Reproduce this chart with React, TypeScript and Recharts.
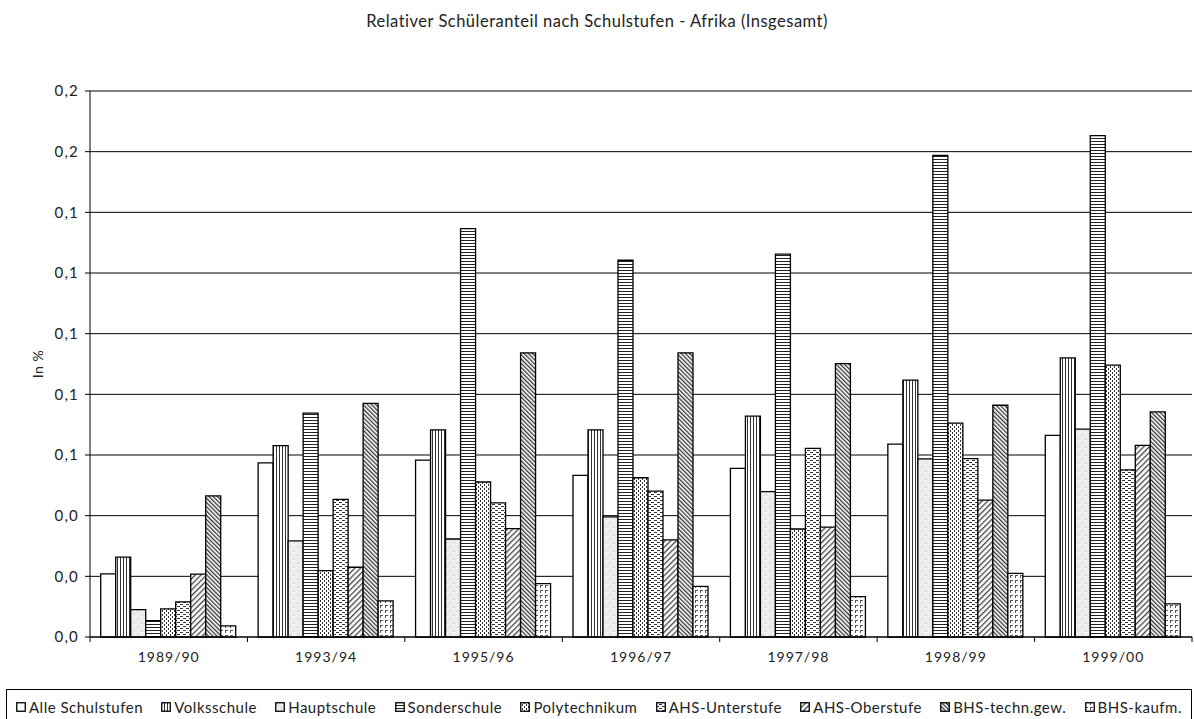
import React from 'react'
import { Bar, BarChart, CartesianGrid, XAxis, YAxis } from 'recharts'

const years = ['1989/90', '1993/94', '1995/96', '1996/97', '1997/98', '1998/99', '1999/00']

const alleSchulstufen = [0.0208, 0.0574, 0.0583, 0.0533, 0.0556, 0.0636, 0.0665]
const volksschule = [0.0263, 0.0631, 0.0683, 0.0683, 0.0728, 0.0847, 0.092]
const hauptschule = [0.009, 0.0317, 0.0323, 0.0396, 0.0479, 0.0587, 0.0685]
const sonderschule = [0.0054, 0.0738, 0.1346, 0.1242, 0.1262, 0.1588, 0.1653]
const polytechnikum = [0.0093, 0.0219, 0.0511, 0.0525, 0.0356, 0.0705, 0.0896]
const ahsUnterstufe = [0.0116, 0.0454, 0.0442, 0.0481, 0.0622, 0.0588, 0.0551]
const ahsOberstufe = [0.0207, 0.023, 0.0357, 0.032, 0.0362, 0.0451, 0.0632]
const bhsTechnGew = [0.0465, 0.077, 0.0937, 0.0937, 0.0901, 0.0764, 0.0742]
const bhsKaufm = [0.0037, 0.0119, 0.0176, 0.0167, 0.0133, 0.021, 0.0109]

const yTicks = [0, 0.02, 0.04, 0.06, 0.08, 0.1, 0.12, 0.14, 0.16, 0.18]

const series = [
  { name: 'Alle Schulstufen', values: alleSchulstufen, pattern: 'p-alle' },
  { name: 'Volksschule', values: volksschule, pattern: 'p-volks' },
  { name: 'Hauptschule', values: hauptschule, pattern: 'p-haupt' },
  { name: 'Sonderschule', values: sonderschule, pattern: 'p-sonder' },
  { name: 'Polytechnikum', values: polytechnikum, pattern: 'p-poly' },
  { name: 'AHS-Unterstufe', values: ahsUnterstufe, pattern: 'p-ahsu' },
  { name: 'AHS-Oberstufe', values: ahsOberstufe, pattern: 'p-ahso' },
  { name: 'BHS-techn.gew.', values: bhsTechnGew, pattern: 'p-bhst' },
  { name: 'BHS-kaufm.', values: bhsKaufm, pattern: 'p-bhsk' }
]

const FONT = 'Lato, "DejaVu Sans", sans-serif'
const TEXT = '#222'
const WIDTH = 1194
const HEIGHT = 719
const MARGIN = { top: 91, right: 2, left: 30, bottom: 52 }
const Y_AXIS_W = 60
const X_AXIS_H = 30
const PLOT_LEFT = MARGIN.left + Y_AXIS_W
const PLOT_RIGHT = WIDTH - MARGIN.right
const PLOT_BOTTOM = HEIGHT - MARGIN.bottom - X_AXIS_H
const BAND = (PLOT_RIGHT - PLOT_LEFT) / years.length

const chartData = years.map((year, i) => {
  const row: Record<string, string | number> = { year }
  for (const s of series) row[s.name] = s.values[i]
  return row
})

function PatternDefs() {
  return (
    <svg width={0} height={0} style={{ position: 'absolute' }}>
      <defs>
        <pattern id="p-alle" width={4} height={4} patternUnits="userSpaceOnUse">
          <rect width={4} height={4} fill="#fff" />
        </pattern>
        <pattern id="p-volks" width={3} height={3} patternUnits="userSpaceOnUse">
          <rect width={3} height={3} fill="#fff" />
          <rect x={0} y={0} width={1} height={3} fill="#333" />
        </pattern>
        <pattern id="p-haupt" width={8} height={8} patternUnits="userSpaceOnUse">
          <rect width={8} height={8} fill="#eeeeee" />
          <rect x={1} y={2} width={3} height={2} fill="#e0e0e0" />
          <rect x={5} y={5} width={2} height={3} fill="#e3e3e3" />
          <rect x={6} y={0} width={2} height={1} fill="#f6f6f6" />
        </pattern>
        <pattern id="p-sonder" width={3} height={3} patternUnits="userSpaceOnUse">
          <rect width={3} height={3} fill="#fff" />
          <rect x={0} y={0} width={3} height={1} fill="#222" />
        </pattern>
        <pattern id="p-poly" width={4} height={4} patternUnits="userSpaceOnUse">
          <rect width={4} height={4} fill="#fff" />
          <rect x={0} y={0} width={1} height={2} fill="#333" />
          <rect x={2} y={2} width={1} height={2} fill="#333" />
        </pattern>
        <pattern id="p-ahsu" width={6} height={4} patternUnits="userSpaceOnUse">
          <rect width={6} height={4} fill="#fff" />
          <rect x={0} y={0} width={3} height={1} fill="#333" />
          <rect x={3} y={2} width={3} height={1} fill="#333" />
        </pattern>
        <pattern id="p-ahso" width={4} height={4} patternUnits="userSpaceOnUse" patternTransform="rotate(45)">
          <rect width={4} height={4} fill="#fff" />
          <rect x={0} y={0} width={1.3} height={4} fill="#444" />
        </pattern>
        <pattern id="p-bhst" width={3} height={3} patternUnits="userSpaceOnUse" patternTransform="rotate(-45)">
          <rect width={3} height={3} fill="#fff" />
          <rect x={0} y={0} width={1.3} height={3} fill="#333" />
        </pattern>
        <pattern id="p-bhsk" width={5} height={5} patternUnits="userSpaceOnUse">
          <rect width={5} height={5} fill="#fff" />
          <rect x={0} y={0} width={3} height={1} fill="#555" />
          <rect x={0} y={0} width={1} height={3} fill="#555" />
        </pattern>
      </defs>
    </svg>
  )
}

// category label in the middle of the band, tick marks on the band edges
function YearTick(props: { x?: number; y?: number; index?: number; payload?: { value: string } }) {
  const { x = 0, index = 0, payload } = props
  const left = x - BAND / 2
  return (
    <g>
      <line x1={left} x2={left} y1={PLOT_BOTTOM} y2={PLOT_BOTTOM + 5} stroke="#000" />
      {index === years.length - 1 && (
        <line x1={left + BAND} x2={left + BAND} y1={PLOT_BOTTOM} y2={PLOT_BOTTOM + 5} stroke="#000" />
      )}
      <text
        x={x}
        y={PLOT_BOTTOM + 25}
        textAnchor="middle"
        fontSize={14}
        letterSpacing={1}
        fill={TEXT}
        fontFamily={FONT}
      >
        {payload?.value}
      </text>
    </g>
  )
}

function LegendBox() {
  return (
    <div
      style={{
        position: 'absolute',
        left: 6,
        top: 689,
        width: PLOT_RIGHT - 6,
        height: 40,
        boxSizing: 'border-box',
        border: '1px solid #000',
        display: 'flex',
        justifyContent: 'space-between',
        alignItems: 'flex-start',
        padding: '8px 9px 0 9px',
        fontFamily: FONT,
        fontSize: 15,
        letterSpacing: 0.5,
        color: TEXT
      }}
    >
      {series.map((s) => (
        <div key={s.name} style={{ display: 'flex', alignItems: 'center', gap: 3 }}>
          <svg width={10} height={10}>
            <rect x={0.75} y={0.75} width={8.5} height={8.5} fill={`url(#${s.pattern})`} stroke="#000" strokeWidth={1.3} />
          </svg>
          <span>{s.name}</span>
        </div>
      ))}
    </div>
  )
}

export default function App() {
  return (
    <div style={{ position: 'absolute', left: 0, top: 0, width: WIDTH, height: HEIGHT, background: '#fff' }}>
      <PatternDefs />
      <div
        style={{
          position: 'absolute',
          top: 11,
          left: 0,
          width: WIDTH,
          textAlign: 'center',
          fontFamily: FONT,
          fontSize: 16.5,
          letterSpacing: 0.5,
          color: TEXT
        }}
      >
        Relativer Schüleranteil nach Schulstufen - Afrika (Insgesamt)
      </div>
      <BarChart
        width={WIDTH}
        height={HEIGHT}
        data={chartData}
        margin={MARGIN}
        barCategoryGap="6.8%"
        barGap={0}
      >
        <CartesianGrid horizontal vertical={false} stroke="#000" strokeWidth={1} />
        <XAxis
          dataKey="year"
          height={X_AXIS_H}
          interval={0}
          tickLine={false}
          axisLine={{ stroke: '#000' }}
          tick={<YearTick />}
        />
        <YAxis
          width={Y_AXIS_W}
          domain={[0, 0.18]}
          ticks={yTicks}
          tickFormatter={(v: number) => v.toFixed(1).replace('.', ',')}
          tick={{ fontSize: 15, fill: TEXT, fontFamily: FONT, letterSpacing: 1.2 }}
          tickLine={{ stroke: '#000' }}
          tickSize={5}
          tickMargin={6}
          axisLine={{ stroke: '#000' }}
          label={{
            value: 'In %',
            angle: -90,
            position: 'insideLeft',
            offset: 8,
            style: { fontSize: 14, fill: TEXT, fontFamily: FONT, textAnchor: 'middle', letterSpacing: 0.5 }
          }}
        />
        {series.map((s) => (
          <Bar
            key={s.name}
            dataKey={s.name}
            fill={`url(#${s.pattern})`}
            stroke="#000"
            strokeWidth={1.3}
            isAnimationActive={false}
          />
        ))}
      </BarChart>
      <LegendBox />
    </div>
  )
}
